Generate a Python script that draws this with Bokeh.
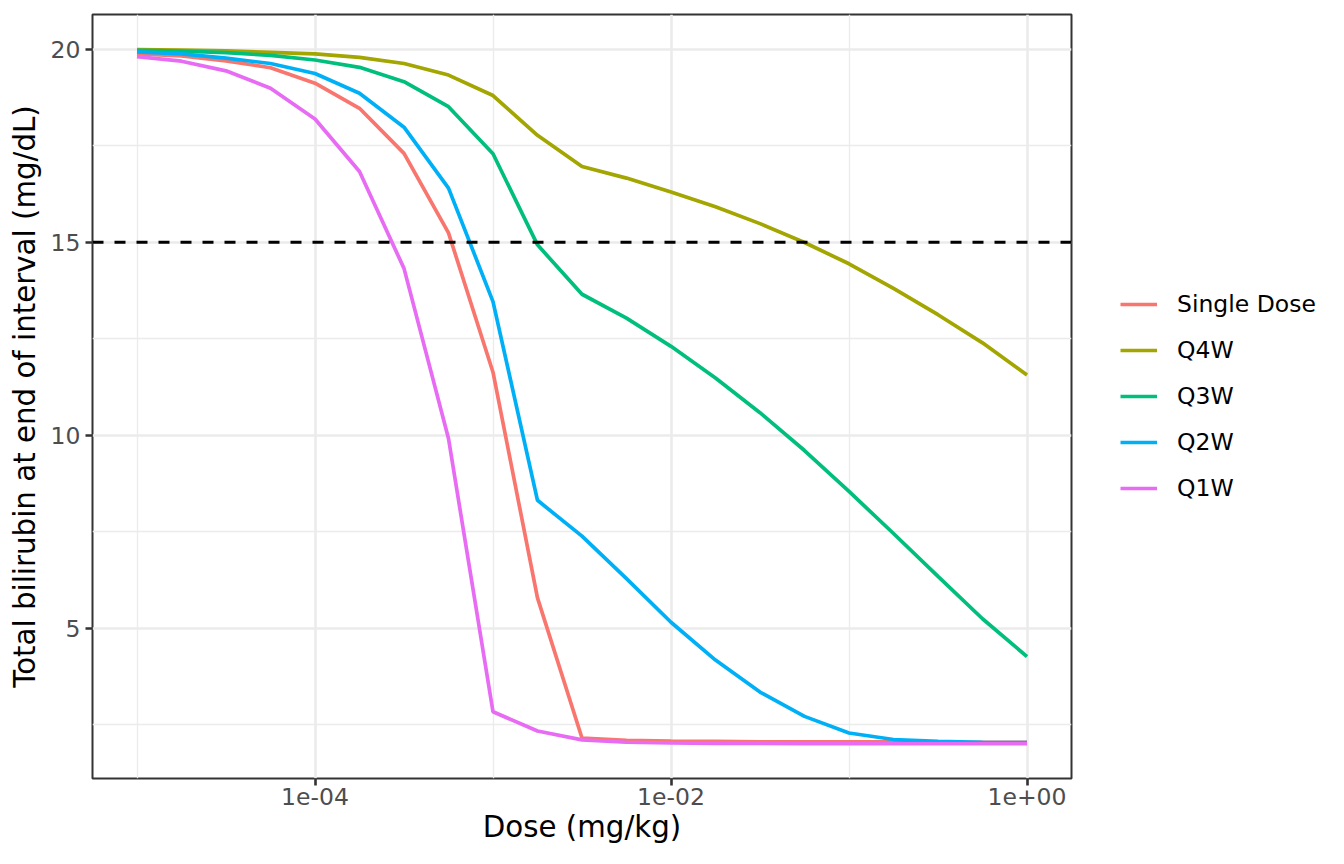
from bokeh.plotting import figure
from bokeh.layouts import row
from bokeh.models import (Range1d, FixedTicker, CustomJSTickFormatter, Legend,
                          LegendItem, Span)
from bokeh.embed import file_html
from bokeh.resources import INLINE

# ---------------- data ----------------
dose = [1e-05, 1.778e-05, 3.162e-05, 5.623e-05,
        1e-04, 1.778e-04, 3.162e-04, 5.623e-04,
        1e-03, 1.778e-03, 3.162e-03, 5.623e-03,
        1e-02, 1.778e-02, 3.162e-02, 5.623e-02,
        1e-01, 1.778e-01, 3.162e-01, 5.623e-01, 1.0]

single_dose = [19.88, 19.83, 19.70, 19.52, 19.12, 18.47, 17.30, 15.24, 11.63, 5.78, 2.15,
               2.09, 2.07, 2.06, 2.05, 2.05, 2.05, 2.05, 2.04, 2.04, 2.04]
q4w = [19.99, 19.98, 19.96, 19.92, 19.88, 19.79, 19.63, 19.33, 18.80, 17.77, 16.96,
       16.66, 16.30, 15.92, 15.48, 14.99, 14.44, 13.80, 13.12, 12.39, 11.56]
q3w = [19.97, 19.95, 19.91, 19.84, 19.72, 19.53, 19.16, 18.51, 17.29, 14.93, 13.65,
       13.03, 12.30, 11.48, 10.58, 9.60, 8.54, 7.45, 6.34, 5.24, 4.26]
q2w = [19.93, 19.88, 19.77, 19.63, 19.37, 18.86, 17.98, 16.40, 13.46, 8.31, 7.38,
       6.28, 5.15, 4.17, 3.34, 2.71, 2.28, 2.11, 2.06, 2.04, 2.03]
q1w = [19.81, 19.69, 19.44, 18.99, 18.19, 16.83, 14.32, 9.91, 2.83, 2.33, 2.10,
       2.04, 2.02, 2.01, 2.01, 2.00, 2.00, 2.00, 2.00, 2.00, 2.00]

series_names = ["Single Dose", "Q4W", "Q3W", "Q2W", "Q1W"]
series_values = [single_dose, q4w, q3w, q2w, q1w]
series_colors = ["#F8766D", "#A3A500", "#00BF7D", "#00B0F6", "#E76BF3"]

threshold = 15

x_tick_values = [1e-04, 1e-02, 1.0]
x_tick_labels = ["1e-04", "1e-02", "1e+00"]
x_minor_values = [1e-05, 1e-03, 1e-01]
y_tick_values = [5, 10, 15, 20]
y_minor_values = [2.5, 7.5, 12.5, 17.5]

x_title = "Dose (mg/kg)"
y_title = "Total bilirubin at end of interval (mg/dL)"

FONT = "DejaVu Sans"
LINE_W = 3.7

# ---------------- main plot ----------------
p = figure(width=1081, height=848, x_axis_type="log",
           x_range=Range1d(10 ** -5.25, 10 ** 0.25), y_range=Range1d(1.1, 20.9),
           output_backend="svg", toolbar_location=None,
           min_border_left=92, min_border_right=10,
           min_border_top=14, min_border_bottom=70)

p.background_fill_color = "white"
p.border_fill_color = "white"
p.outline_line_color = "#333333"
p.outline_line_width = 2

xt = FixedTicker(ticks=x_tick_values, minor_ticks=x_minor_values)
yt = FixedTicker(ticks=y_tick_values, minor_ticks=y_minor_values)
p.xaxis.ticker = xt
p.yaxis.ticker = yt
p.xgrid.ticker = xt
p.ygrid.ticker = yt

p.xaxis.formatter = CustomJSTickFormatter(args=dict(vals=x_tick_values, labs=x_tick_labels), code="""
let best = 0, bd = Infinity;
for (let i = 0; i < vals.length; i++) {
  const d = Math.abs(Math.log10(tick) - Math.log10(vals[i]));
  if (d < bd) { bd = d; best = i; }
}
return labs[best];
""")

for g in (p.xgrid, p.ygrid):
    g.grid_line_color = "#EBEBEB"
    g.grid_line_width = 2.6
    g.minor_grid_line_color = "#EBEBEB"
    g.minor_grid_line_width = 1.3

for ax in (p.xaxis, p.yaxis):
    ax.axis_line_color = None
    ax.major_tick_line_color = "#333333"
    ax.major_tick_line_width = 2.6
    ax.major_tick_in = 0
    ax.major_tick_out = 7
    ax.minor_tick_in = 0
    ax.minor_tick_out = 0
    ax.minor_tick_line_color = None
    ax.major_label_text_font = FONT
    ax.major_label_text_font_size = "23.5px"
    ax.major_label_text_color = "#4D4D4D"
    ax.axis_label_text_font = FONT
    ax.axis_label_text_font_size = "29.3px"
    ax.axis_label_text_font_style = "normal"
    ax.axis_label_text_color = "black"

p.xaxis.axis_label = x_title
p.yaxis.axis_label = y_title
p.xaxis.major_label_standoff = 2
p.xaxis.axis_label_standoff = 2
p.yaxis.major_label_standoff = 5
p.yaxis.axis_label_standoff = 6

for name, vals, col in zip(series_names, series_values, series_colors):
    p.line(dose, vals, line_color=col, line_width=LINE_W)

p.add_layout(Span(location=threshold, dimension="width", line_color="black",
                  line_width=3, line_dash="11 11"))

# ---------------- legend panel ----------------
# key renderers use the same series, but the panel's range keeps them out of view
pl = figure(width=247, height=848, title=None, output_backend="svg",
            toolbar_location=None, x_axis_location=None, y_axis_location=None,
            x_range=Range1d(5, 6), y_range=Range1d(50, 60), min_border=0)
pl.grid.visible = False
pl.outline_line_color = None
pl.background_fill_color = "white"
pl.border_fill_color = "white"

items = []
for name, vals, col in zip(series_names, series_values, series_colors):
    key = pl.line(dose, vals, line_color=col, line_width=LINE_W)
    items.append(LegendItem(label=name, renderers=[key]))

legend = Legend(items=items, location=(39, 267))
legend.margin = 0
legend.padding = 0
legend.spacing = 0
legend.glyph_width = 37
legend.glyph_height = 46
legend.label_standoff = 20
legend.label_text_font = FONT
legend.label_text_font_size = "23.5px"
legend.label_text_color = "black"
legend.border_line_color = None
legend.background_fill_alpha = 0
pl.add_layout(legend, "center")

layout = row(p, pl)
open("out.html", "w").write(file_html(layout, INLINE))
